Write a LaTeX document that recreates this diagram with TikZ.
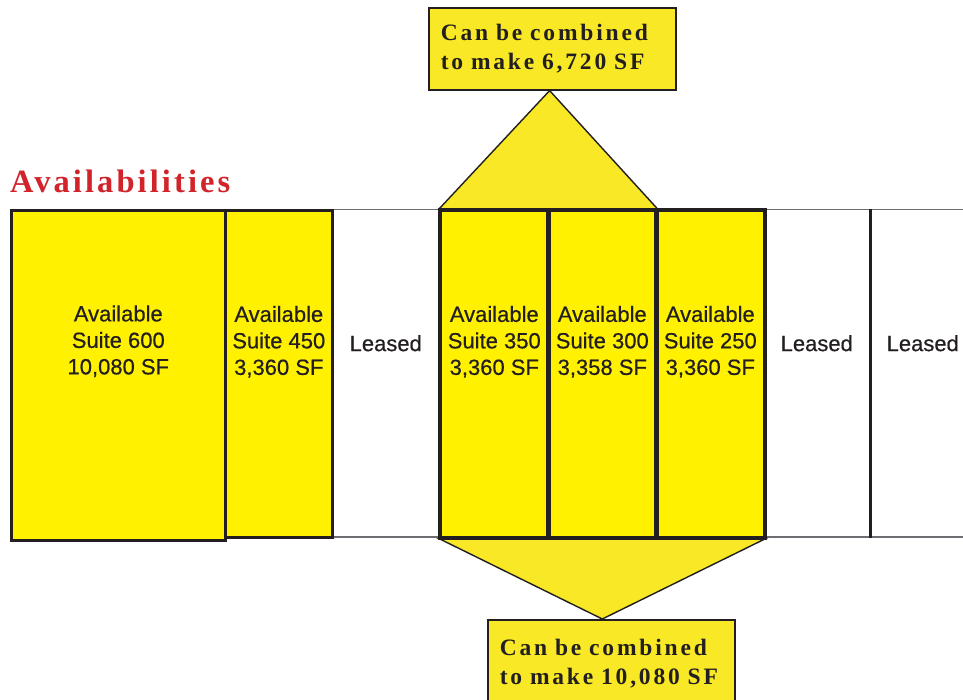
\documentclass[tikz,border=0pt]{standalone}
\usepackage{fontspec}
\setmainfont{Liberation Serif}
\setsansfont{Liberation Sans}
\definecolor{ylw}{HTML}{FFF100}
\definecolor{tri}{HTML}{F8E825}
\definecolor{ink}{HTML}{231F20}
\definecolor{edge}{HTML}{6D6E71}
\definecolor{titlered}{HTML}{D2232A}
\tikzset{
  suite/.style={rectangle, anchor=north west, fill=ylw, draw=ink, line width=2.6pt, minimum height=327pt, inner sep=0pt},
  leasedbox/.style={rectangle, anchor=north west, fill=white, draw=edge, line width=1.5pt, minimum height=327pt, inner sep=0pt},
  lbl/.style={align=center, font=\sffamily\fontsize{22}{26.5}\selectfont\addfontfeature{FakeBold=0.5}, text=ink, inner sep=0pt},
  callout/.style={rectangle, anchor=north west, fill=tri, draw=ink, line width=1.6pt, inner ysep=0pt, inner xsep=12pt,
     text width=223pt, align=left,
     font=\bfseries\fontsize{23.5}{28.5}\selectfont\addfontfeature{LetterSpace=12}, text=ink},
  wedge/.style={fill=tri, draw=ink, line width=1.4pt, line join=miter},
  divider/.style={draw=ink, line width=2.6pt}
}
\begin{document}
\begin{tikzpicture}[x=1pt,y=-1pt]
\clip (0,0) rectangle (963,700);
\fill[white] (0,0) rectangle (963,700);
% leased boxes
\node[leasedbox, minimum width=108pt] (l1) at (331,209) {};
\node[leasedbox, minimum width=106pt] (l2) at (763,209) {};
\node[leasedbox, minimum width=106pt] (l3) at (869,209) {};
% callout boxes
\node[callout, minimum height=82pt] (top) at (428,7) {Can be combined\\to make 6,720 SF};
\node[callout, minimum height=88pt] (bot) at (487,619) {Can be combined\\to make 10,080 SF};
% yellow suites
\node[suite, minimum width=214pt, minimum height=330pt] (s600) at (10,209) {};
\node[suite, minimum width=107pt] (s450) at (224,209) {};
\node[suite, minimum width=108pt] (s350) at (439,209) {};
\node[suite, minimum width=108pt] (s300) at (547,209) {};
\node[suite, minimum width=108pt] (s250) at (655,209) {};
% wedges
\draw[wedge] (s350.north west) -- (s350.north east |- top.south) -- (s300.north east) -- cycle;
\draw[wedge] (s350.south west) -- (s300.center |- bot.north) -- (s250.south east) -- cycle;
% redraw suite borders over wedges
\draw[draw=ink, line width=2.6pt] (s350.north west) rectangle (s350.south east);
\draw[draw=ink, line width=2.6pt] (s300.north west) rectangle (s300.south east);
\draw[draw=ink, line width=2.6pt] (s250.north west) rectangle (s250.south east);
\draw[divider] (l2.north east) -- (l2.south east);
% labels
\node[lbl] (t600) at ([yshift=34pt]s600.center) {Available\\Suite 600\\10,080 SF};
\node[lbl] (t450) at ([yshift=32pt]s450.center) {Available\\Suite 450\\3,360 SF};
\node[lbl] (t350) at ([yshift=32pt]s350.center) {Available\\Suite 350\\3,360 SF};
\node[lbl] (t300) at ([yshift=32pt]s300.center) {Available\\Suite 300\\3,358 SF};
\node[lbl] (t250) at ([yshift=32pt]s250.center) {Available\\Suite 250\\3,360 SF};
\node[lbl] (tl1) at ([yshift=30pt]l1.center) {Leased};
\node[lbl] (tl2) at ([yshift=30pt]l2.center) {Leased};
\node[lbl] (tl3) at ([yshift=30pt]l3.center) {Leased};
% title
\node[anchor=base west, inner sep=0pt, text=titlered, font=\bfseries\fontsize{32.5}{36}\selectfont\addfontfeature{LetterSpace=9.5}] (title) at (10,193) {Availabilities};
\end{tikzpicture}
\end{document}
